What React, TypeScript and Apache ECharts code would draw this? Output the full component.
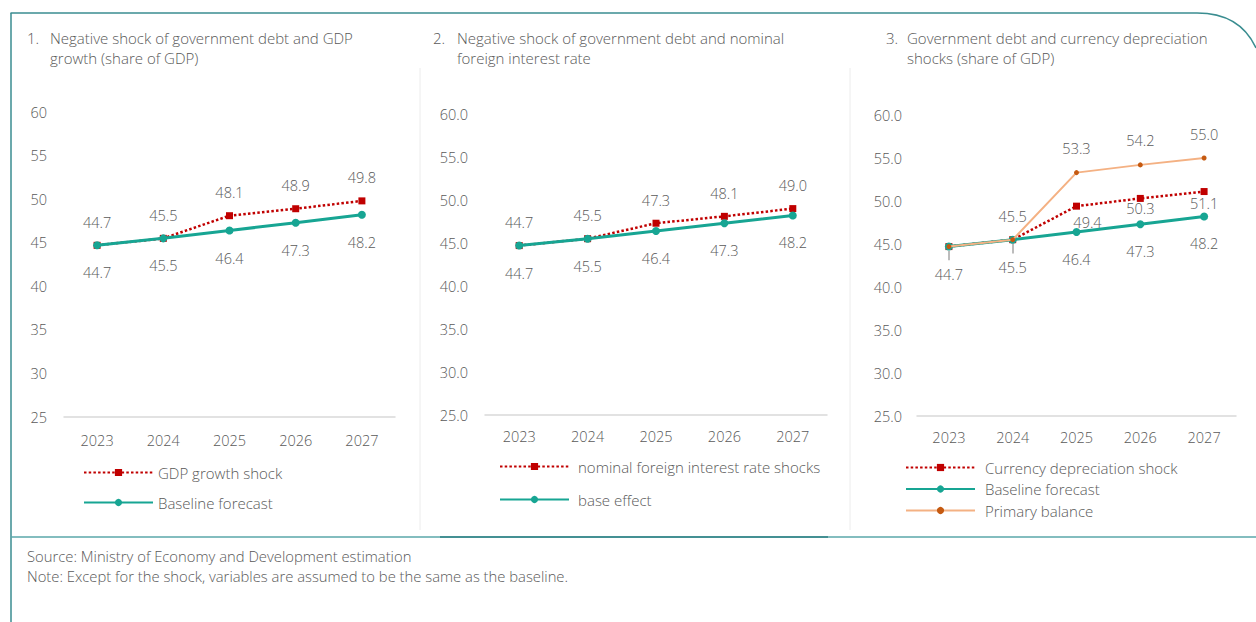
import React, { useEffect, useRef } from "react";
import * as echarts from "echarts";

const years = ["2023", "2024", "2025", "2026", "2027"];
const gdpShock = [44.7, 45.5, 48.1, 48.9, 49.8];
const gdpBaseline = [44.7, 45.5, 46.4, 47.3, 48.2];
const rateShock = [44.7, 45.5, 47.3, 48.1, 49.0];
const rateBase = [44.7, 45.5, 46.4, 47.3, 48.2];
const currencyShock = [44.7, 45.5, 49.4, 50.3, 51.1];
const currencyBaseline = [44.7, 45.5, 46.4, 47.3, 48.2];
const primaryBalance = [44.7, 45.5, 53.3, 54.2, 55.0];
const yMin = 25;
const yMax = 60;
const yStep = 5;

const FONT = "'Open Sans', sans-serif";
const FW = 300;
const TXT = "#595959";
const RED = "#c00000";
const TEAL = "#17a593";
const ORANGE_LINE = "#f4b183";
const ORANGE_DOT = "#c55a11";
const BORDER = "#3a8d90";

const fmt1 = (p: any) => Number(p.value).toFixed(1);

function App() {
  const ref = useRef<HTMLDivElement>(null);
  useEffect(() => {
    if (!ref.current) return;
    const chart = echarts.init(ref.current, undefined, { renderer: "svg" });

    const grids = [
      { left: 64, top: 112, width: 331, height: 305 },
      { left: 485, top: 114, width: 342, height: 301 },
      { left: 917, top: 115, width: 319, height: 301 },
    ];

    const xAxes = grids.map((_, i) => ({
      type: "category",
      gridIndex: i,
      data: years,
      boundaryGap: true,
      axisLine: { lineStyle: { color: "#d9d9d9", width: 1.5 } },
      axisTick: { show: false },
      axisLabel: { color: TXT, fontFamily: FONT, fontWeight: FW, fontSize: 14.5, margin: i === 0 ? 16 : 14 },
    }));
    const yAxes = grids.map((_, i) => ({
      type: "value",
      gridIndex: i,
      min: yMin,
      max: yMax,
      interval: yStep,
      axisLine: { show: false },
      axisTick: { show: false },
      splitLine: { show: false },
      axisLabel: {
        color: TXT,
        fontFamily: FONT,
        fontWeight: FW,
        fontSize: 14.5,
        margin: i === 2 ? 15 : 17,
        formatter: (v: number) => (i === 0 ? String(v) : v.toFixed(1)),
      },
    }));

    const lbl = (position: string, distance: number) => ({
      show: true,
      position,
      distance,
      color: TXT,
      fontFamily: FONT,
      fontWeight: FW,
      fontSize: 14.5,
      formatter: fmt1,
    });

    const shockSeries = (name: string, data: any[], idx: number, label: any) => ({
      name,
      type: "line",
      xAxisIndex: idx,
      yAxisIndex: idx,
      data,
      symbol: "rect",
      symbolSize: 7,
      itemStyle: { color: RED },
      lineStyle: { color: RED, width: 2.5, type: [2.5, 2.2] },
      label,
      z: 2,
    });
    const baseSeries = (name: string, data: number[], idx: number, extra: any = {}) => ({
      name,
      type: "line",
      xAxisIndex: idx,
      yAxisIndex: idx,
      data,
      symbol: "circle",
      symbolSize: 8,
      itemStyle: { color: TEAL },
      lineStyle: { color: TEAL, width: 3 },
      label: lbl("bottom", 16),
      z: 3,
      ...extra,
    });

    // panel 3 label placement for currency shock
    const currencyLabelPlace: any[] = [
      null,
      { position: "inside", offset: [0, -23] },
      { position: "inside", offset: [11, 16] },
      { position: "inside", offset: [0, 10] },
      { position: "inside", offset: [0, 12] },
    ];
    const currencyData = currencyShock.map((v, i) => ({
      value: v,
      label: currencyLabelPlace[i] ? { show: true, ...currencyLabelPlace[i] } : { show: false },
    }));
    const primaryData = primaryBalance.map((v, i) => ({
      value: v,
      label: { show: i >= 2 },
    }));

    const legendBase = {
      orient: "vertical",
      itemWidth: 69,
      itemHeight: 9,
      padding: 0,
      textStyle: { color: TXT, fontFamily: FONT, fontWeight: FW, fontSize: 15 },
      selectedMode: false,
    };

    const option: any = {
      animation: false,
      backgroundColor: "#ffffff",
      grid: grids,
      xAxis: xAxes,
      yAxis: yAxes,
      legend: [
        { ...legendBase, left: 83, top: 465, itemGap: 15, data: ["GDP growth shock", "Baseline forecast"] },
        {
          ...legendBase,
          left: 499,
          top: 459,
          itemGap: 18,
          textStyle: { ...legendBase.textStyle, padding: [0, 0, 0, 4] },
          data: ["nominal foreign interest rate shocks", "base effect"],
        },
        {
          ...legendBase,
          left: 905,
          top: 460,
          itemGap: 6.5,
          textStyle: { ...legendBase.textStyle, padding: [0, 0, 0, 5] },
          data: ["Currency depreciation shock", "Baseline forecast", "Primary balance"],
        },
      ],
      series: [
        shockSeries("GDP growth shock", gdpShock, 0, lbl("top", 12)),
        baseSeries("Baseline forecast", gdpBaseline, 0),
        shockSeries("nominal foreign interest rate shocks", rateShock, 1, lbl("top", 12)),
        baseSeries("base effect", rateBase, 1),
        shockSeries("Currency depreciation shock", currencyData, 2, lbl("inside", 0)),
        baseSeries("Baseline forecast", currencyBaseline, 2, {
          markLine: {
            silent: true,
            symbol: ["none", "none"],
            label: { show: false },
            lineStyle: { color: "#a6a6a6", width: 1.5, type: "solid" },
            data: [0, 1].map((i) => [
              { coord: [years[i], currencyBaseline[i] - 0.5] },
              { coord: [years[i], currencyBaseline[i] - 1.6] },
            ]),
          },
        }),
        {
          name: "Primary balance",
          type: "line",
          xAxisIndex: 2,
          yAxisIndex: 2,
          data: primaryData,
          symbol: "circle",
          symbolSize: 5,
          itemStyle: { color: ORANGE_DOT },
          lineStyle: { color: ORANGE_LINE, width: 2 },
          label: lbl("top", 14),
          z: 4,
        },
      ],
      graphic: [
        // frame
        { type: "line", shape: { x1: 11, y1: 13, x2: 11, y2: 622 }, style: { stroke: BORDER, lineWidth: 1.5 } },
        { type: "line", shape: { x1: 10.5, y1: 13, x2: 1197, y2: 13 }, style: { stroke: BORDER, lineWidth: 1.5 } },
        {
          type: "bezierCurve",
          shape: { x1: 1197, y1: 13, x2: 1256, y2: 48, cpx1: 1240, cpy1: 13 },
          style: { stroke: BORDER, lineWidth: 1.5, fill: "none" },
        },
        { type: "line", shape: { x1: 11, y1: 537, x2: 1256, y2: 537 }, style: { stroke: "#5aa7aa", lineWidth: 1.5 } },
        { type: "line", shape: { x1: 440, y1: 537, x2: 828, y2: 537 }, style: { stroke: "#2f8285", lineWidth: 1.5 } },
        // panel dividers
        { type: "line", shape: { x1: 420, y1: 68, x2: 420, y2: 530 }, style: { stroke: "#ececec", lineWidth: 1 } },
        { type: "line", shape: { x1: 850, y1: 68, x2: 850, y2: 530 }, style: { stroke: "#ececec", lineWidth: 1 } },
        // titles
        ...[
          { n: "1.", nx: 27, x: 50, t: "Negative shock of government debt and GDP\ngrowth (share of GDP)" },
          { n: "2.", nx: 433, x: 457, t: "Negative shock of government debt and nominal\nforeign interest rate" },
          { n: "3.", nx: 886, x: 907, t: "Government debt and currency depreciation\nshocks (share of GDP)" },
        ].flatMap((o) => [
          {
            type: "text",
            x: o.nx,
            y: 28,
            style: { text: o.n, fill: TXT, font: `${FW} 15px ${FONT}`, lineHeight: 20, verticalAlign: "top" },
          },
          {
            type: "text",
            x: o.x,
            y: 28,
            style: { text: o.t, fill: TXT, font: `${FW} 15px ${FONT}`, lineHeight: 20, verticalAlign: "top" },
          },
        ]),
        {
          type: "text",
          x: 27,
          y: 546,
          style: {
            text: "Source: Ministry of Economy and Development estimation\nNote: Except for the shock, variables are assumed to be the same as the baseline.",
            fill: TXT,
            font: `${FW} 14.8px ${FONT}`,
            lineHeight: 20,
            verticalAlign: "top",
          },
        },
      ],
    };

    chart.setOption(option);
    return () => chart.dispose();
  }, []);

  return (
    <div
      ref={ref}
      style={{ position: "fixed", left: 0, top: 0, width: 1256, height: 622, background: "#fff" }}
    />
  );
}

export default App;
